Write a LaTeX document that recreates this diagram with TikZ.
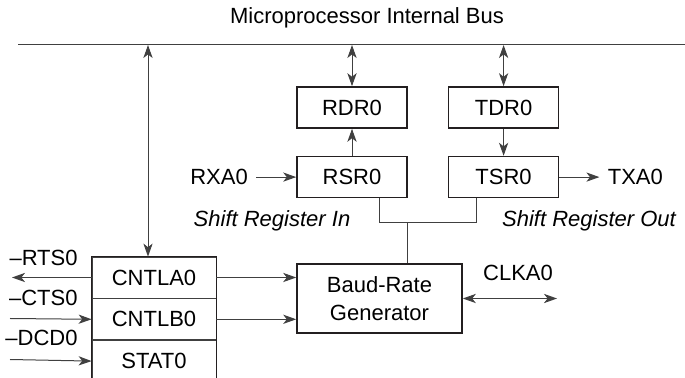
\documentclass[tikz,border=0pt]{standalone}
\usepackage{fontspec}
\setmainfont{Liberation Sans}
\usepackage{tikz}
\usetikzlibrary{arrows.meta,positioning,calc}
\definecolor{AsciLine}{HTML}{404040}
\definecolor{AsciBox}{HTML}{231F20}
\newcommand{\labelfont}{\fontsize{11}{14}\selectfont}
\tikzset{
  regbox/.style={draw=AsciBox,line width=0.8pt,minimum width=55pt,minimum height=20.5pt,inner sep=0pt,align=center,font=\labelfont},
  rowbox/.style={draw=AsciLine,line width=0.4pt,minimum width=62pt,minimum height=20.5pt,inner sep=0pt,font=\labelfont},
  boxedge/.style={draw=AsciBox,line width=0.8pt},
  sig/.style={inner sep=0pt,font=\labelfont},
  note/.style={inner sep=0pt,font=\labelfont\itshape},
  wire/.style={line width=0.5pt,draw=AsciLine},
  datarrow/.style={-{Stealth[length=6.5pt,width=4.6pt,inset=1.8pt]},line width=0.5pt,draw=AsciLine},
  busarrow/.style={{Stealth[length=6.5pt,width=4.6pt,inset=1.8pt]}-{Stealth[length=6.5pt,width=4.6pt,inset=1.8pt]},line width=0.5pt,draw=AsciLine}
}

\begin{document}
\begin{tikzpicture}[x=0.5pt,y=-0.5pt]
\useasboundingbox (0,0) rectangle (685,378);

% bus
\node[sig] (title) at (367,18) {Microprocessor Internal Bus};
\coordinate (busL) at (18,45);
\coordinate (busR) at (685,45);
\draw[wire] (busL) -- (busR);

% receive / transmit registers
\node[regbox] (rdr) at (352,107.5) {RDR0};
\node[regbox,right=20pt of rdr] (tdr) {TDR0};
\node[regbox,below=13.5pt of rdr] (rsr) {RSR0};
\node[regbox,below=13.5pt of tdr] (tsr) {TSR0};
\node[sig,left=24pt of rsr] (rxa) {RXA0};
\node[sig,right=24pt of tsr] (txa) {TXA0};
\node[note] (shin) at (272,221) {Shift Register In};
\node[note] (shout) at (589,221) {Shift Register Out};

\draw[busarrow] (rdr.north) -- (rdr.north |- busL);
\draw[busarrow] (tdr.north) -- (tdr.north |- busL);
\draw[datarrow] (rsr.north) -- (rdr.south);
\draw[datarrow] (tdr.south) -- (tsr.north);
\draw[datarrow,shorten <=4pt] (rxa.east) -- (rsr.west);
\draw[datarrow,shorten >=4pt] (tsr.east) -- (txa.west);

% baud-rate generator
\node[regbox,minimum width=82.5pt,minimum height=34.5pt] (baud) at (379.5,298.5) {Baud-Rate\\Generator};
\coordinate (jn) at (407,223);
\draw[wire] ([xshift=13.5pt]rsr.south) |- ([xshift=-13.5pt]tsr.south |- jn) -- ([xshift=-13.5pt]tsr.south);
\draw[wire] (jn) -- (jn |- baud.north);
\node[sig] (clka) at (518,273) {CLKA0};
\coordinate (clk) at (557,298.5);
\draw[busarrow] (baud.east) -- (clk);

% control / status registers
\node[rowbox] (cntla) at (154,277.5) {CNTLA0};
\node[rowbox,below=0pt of cntla] (cntlb) {CNTLB0};
\node[rowbox,below=0pt of cntlb] (stat) {STAT0};
\draw[boxedge] (stat.south west) |- (cntla.north east) -- (stat.south east);
\draw[busarrow] ([xshift=-3pt]cntla.north) -- ([xshift=-3pt]cntla.north |- busL);
\draw[datarrow] (cntla.east) -- (cntla.east -| baud.west);
\draw[datarrow] (cntlb.east) -- (cntlb.east -| baud.west);

% modem signals
\node[sig,anchor=east] (rts) at (78,258) {--RTS0};
\node[sig,anchor=east] (cts) at (78,298) {--CTS0};
\node[sig,anchor=east] (dcd) at (78,338) {--DCD0};
\coordinate (rtsend) at (12,277.5);
\coordinate (ctsin) at (10,318.5);
\coordinate (dcdin) at (10,359.5);
\draw[datarrow] (cntla.west) -- (rtsend);
\draw[datarrow] (ctsin) -- (cntlb.west);
\draw[datarrow] (dcdin) -- (stat.west);
\end{tikzpicture}
\end{document}
